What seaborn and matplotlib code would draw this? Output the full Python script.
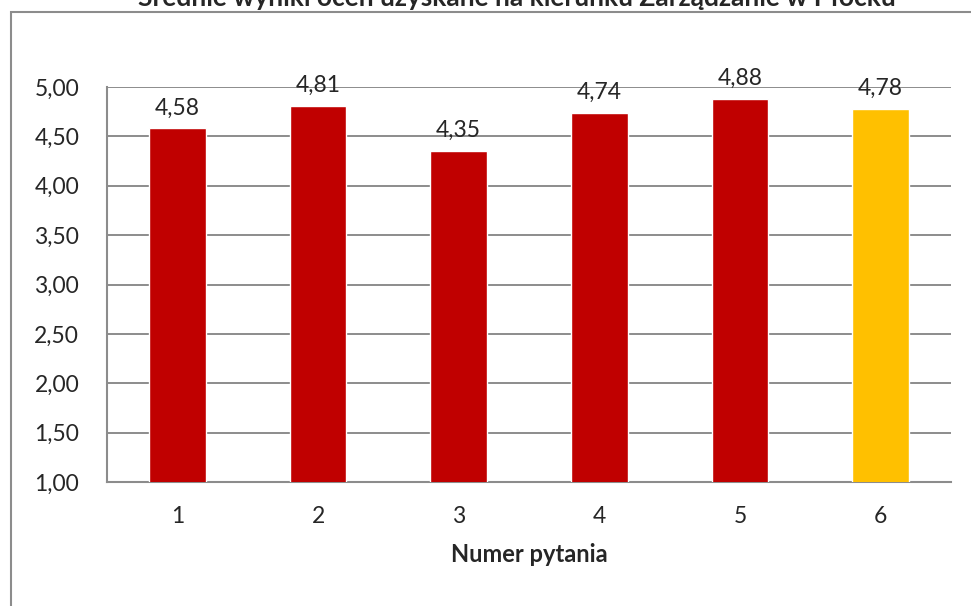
import matplotlib
matplotlib.use("Agg")
import matplotlib.pyplot as plt
from matplotlib.patches import Rectangle
from matplotlib.ticker import FixedLocator
import seaborn as sns
import pandas as pd

questions = ["1", "2", "3", "4", "5", "6"]
scores = [4.58, 4.81, 4.35, 4.74, 4.88, 4.78]
bar_colors = ["#C00000", "#C00000", "#C00000", "#C00000", "#C00000", "#FFC000"]
yticks = [1.0, 1.5, 2.0, 2.5, 3.0, 3.5, 4.0, 4.5, 5.0]

sns.set_style("white")
plt.rcParams['font.family'] = ['Lato', 'DejaVu Sans']

df = pd.DataFrame({"pytanie": questions, "wynik": scores})

fig = plt.figure(figsize=(9.71, 6.06), dpi=100)
ax = fig.add_axes([107 / 971, 1 - 482 / 606, (951 - 107) / 971, (482 - 87) / 606])

# outer frame (cut off on the right and bottom)
fig.patches.append(Rectangle((11 / 971, -0.1), 1.2, 1 - 12 / 606 + 0.1, transform=fig.transFigure,
                             fill=False, edgecolor="#8c8c8c", linewidth=1.5, zorder=0))

sns.barplot(data=df, x="pytanie", y="wynik", hue="pytanie", palette=bar_colors,
            legend=False, width=0.405, ax=ax, saturation=1, zorder=3)

ax.set_ylim(1, 5)
ax.set_xlim(-0.5, 5.5)
ax.set_yticks(yticks)
ax.set_yticklabels([f"{v:.2f}".replace(".", ",") for v in yticks], fontsize=16.5)
ax.yaxis.grid(True, color="#8c8c8c", linewidth=1.4, zorder=0)
ax.set_axisbelow(True)

ax.set_xticks(range(len(questions)))
ax.set_xticklabels(questions, fontsize=16.5)
ax.xaxis.set_minor_locator(FixedLocator([i - 0.5 for i in range(len(questions) + 1)]))
ax.tick_params(axis="x", which="major", length=0, pad=17)
ax.tick_params(axis="x", which="minor", length=6, width=1.5, color="#8c8c8c")
ax.tick_params(axis="y", length=8, width=1.5, color="#8c8c8c", pad=12)

for side in ["top", "right"]:
    ax.spines[side].set_visible(False)
for side in ["left", "bottom"]:
    ax.spines[side].set_color("#8c8c8c")
    ax.spines[side].set_linewidth(1.5)

for i, v in enumerate(scores):
    ax.text(i, v + 0.1, f"{v:.2f}".replace(".", ","), ha="center", va="bottom", fontsize=16.5)

ax.set_xlabel("Numer pytania", fontsize=17, fontweight="bold", labelpad=12)
ax.set_ylabel("")

fig.text(517 / 971, 1 - 6 / 606, "Średnie wyniki ocen uzyskane na kierunku Zarządzanie w Płocku",
         ha="center", va="baseline", fontsize=19, fontweight="bold")

fig.savefig("out.png", dpi=100)
